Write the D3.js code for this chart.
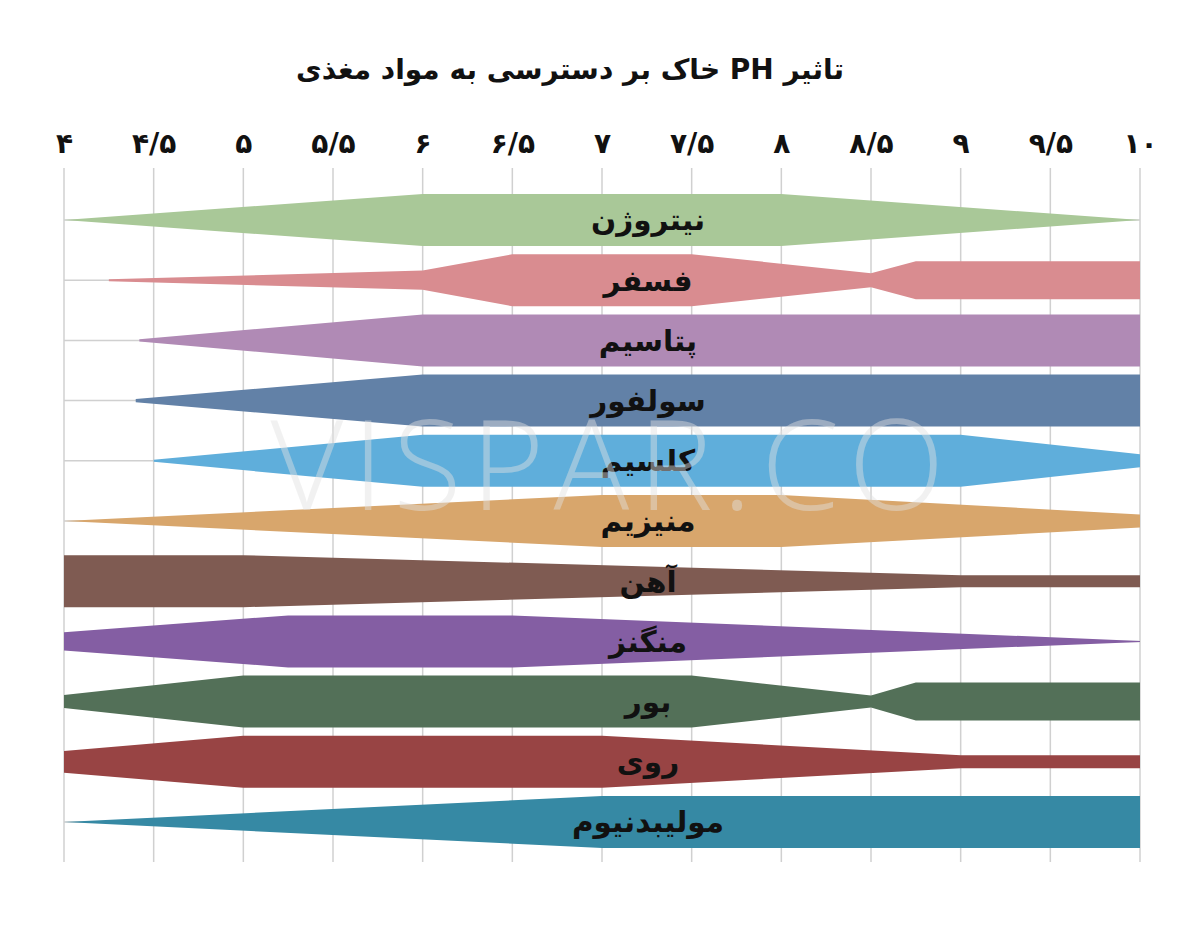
<!DOCTYPE HTML>
<html>
<head>
<meta charset="utf-8">
<script src="https://d3js.org/d3.v7.min.js"></script>
<style>
  body { margin: 0; background: #fff; }
</style>
</head>
<body>
<svg id="svgMain" width="1200" height="937"></svg>

<script>
// chart data (availability in % of the full band)
var title = "تاثیر PH خاک بر دسترسی به مواد مغذی";
var phTicks = [4, 4.5, 5, 5.5, 6, 6.5, 7, 7.5, 8, 8.5, 9, 9.5, 10];
var tickLabels = ["۴", "۴/۵", "۵", "۵/۵", "۶", "۶/۵", "۷", "۷/۵", "۸", "۸/۵", "۹", "۹/۵", "۱۰"];
var nutrients = ["نیتروژن", "فسفر", "پتاسیم", "سولفور", "کلسیم", "منیزیم", "آهن", "منگنز", "بور", "روی", "مولیبدنیوم"];
var colors = ["#a9c898", "#d98c90", "#b08ab5", "#6281a7", "#5faedb", "#d8a66c", "#7f5b52", "#845ea3", "#537058", "#984444", "#3689a4"];

var nitrogen   = [[4, 0], [6, 100], [8, 100], [10, 0]];
var phosphorus = [[4.25, 4], [6, 37], [6.5, 100], [7.5, 100], [8.5, 27], [8.75, 73], [10, 73]];
var potassium  = [[4.42, 4], [6, 100], [10, 100]];
var sulfur     = [[4.4, 6], [6, 100], [10, 100]];
var calcium    = [[4.5, 4], [6, 100], [9, 100], [10, 25]];
var magnesium  = [[4, 0], [7, 100], [8, 100], [10, 25]];
var iron       = [[4, 100], [5, 100], [9, 23], [10, 23]];
var manganese  = [[4, 35], [5.25, 100], [6.5, 100], [10, 2]];
var boron      = [[4, 25], [5, 100], [7.5, 100], [8.5, 23], [8.75, 73], [10, 73]];
var zinc       = [[4, 42], [5, 100], [7, 100], [9, 25], [10, 25]];
var molybdenum = [[4, 0], [7, 100], [10, 100]];

var series = [nitrogen, phosphorus, potassium, sulfur, calcium, magnesium, iron, manganese, boron, zinc, molybdenum];

var svg = d3.select("#svgMain");
var fa = "'DejaVu Sans', 'Noto Sans', sans-serif";

var xs = d3.scaleLinear().domain([4, 10]).range([64, 1140]);
var ys = d3.scalePoint().domain(nutrients).range([220, 822]);
var hs = d3.scaleLinear().domain([0, 100]).range([0, 26]); // half thickness

// vertical grid
svg.append("g").selectAll("line")
   .data(phTicks)
   .enter()
   .append("line")
   .attr("x1", function (d) { return xs(d); })
   .attr("x2", function (d) { return xs(d); })
   .attr("y1", 168)
   .attr("y2", 862)
   .attr("stroke", "#d0d0d0")
   .attr("stroke-width", 1.5);

// horizontal row lines
svg.append("g").selectAll("line")
   .data(nutrients)
   .enter()
   .append("line")
   .attr("x1", xs(4))
   .attr("x2", xs(10))
   .attr("y1", function (d) { return ys(d); })
   .attr("y2", function (d) { return ys(d); })
   .attr("stroke", "#d0d0d0")
   .attr("stroke-width", 1.5);

// top axis with persian labels
var xAxis = d3.axisTop(xs)
   .tickValues(phTicks)
   .tickFormat(function (d, i) { return tickLabels[i]; })
   .tickSize(0)
   .tickPadding(0);

var ax = svg.append("g")
   .attr("transform", "translate(0,153)")
   .call(xAxis);
ax.select(".domain").remove();
ax.selectAll("text")
   .attr("font-family", fa)
   .attr("font-weight", "bold")
   .attr("font-size", 28)
   .attr("fill", "#111")
   .attr("direction", "ltr");

// the bands
svg.append("g").selectAll("path")
   .data(series)
   .enter()
   .append("path")
   .attr("d", function (d, i) {
      var yc = ys(nutrients[i]);
      return d3.area()
         .x(function (p) { return xs(p[0]); })
         .y0(function (p) { return yc - hs(p[1]); })
         .y1(function (p) { return yc + hs(p[1]); })(d);
   })
   .attr("fill", function (d, i) { return colors[i]; });

// nutrient names
svg.append("g").selectAll("text")
   .data(nutrients)
   .enter()
   .append("text")
   .attr("x", 648)
   .attr("y", function (d) { return ys(d); })
   .attr("dy", "0.35em")
   .attr("text-anchor", "middle")
   .attr("font-family", fa)
   .attr("font-weight", "bold")
   .attr("font-size", 29.5)
   .attr("fill", "#111")
   .text(function (d) { return d; });

// title
svg.append("text")
   .attr("x", 570)
   .attr("y", 79)
   .attr("text-anchor", "middle")
   .attr("direction", "rtl")
   .attr("font-family", fa)
   .attr("font-weight", "bold")
   .attr("font-size", 28)
   .attr("fill", "#111")
   .text(title);

// watermark
svg.append("text")
   .attr("x", 612)
   .attr("y", 510)
   .attr("text-anchor", "middle")
   .attr("font-family", "'Open Sans', sans-serif")
   .attr("font-weight", 300)
   .attr("font-size", 126)
   .attr("letter-spacing", 9)
   .attr("fill", "#e2e2e2")
   .attr("opacity", 0.45)
   .text("VISPAR.CO");
</script>
</body>
</html>
